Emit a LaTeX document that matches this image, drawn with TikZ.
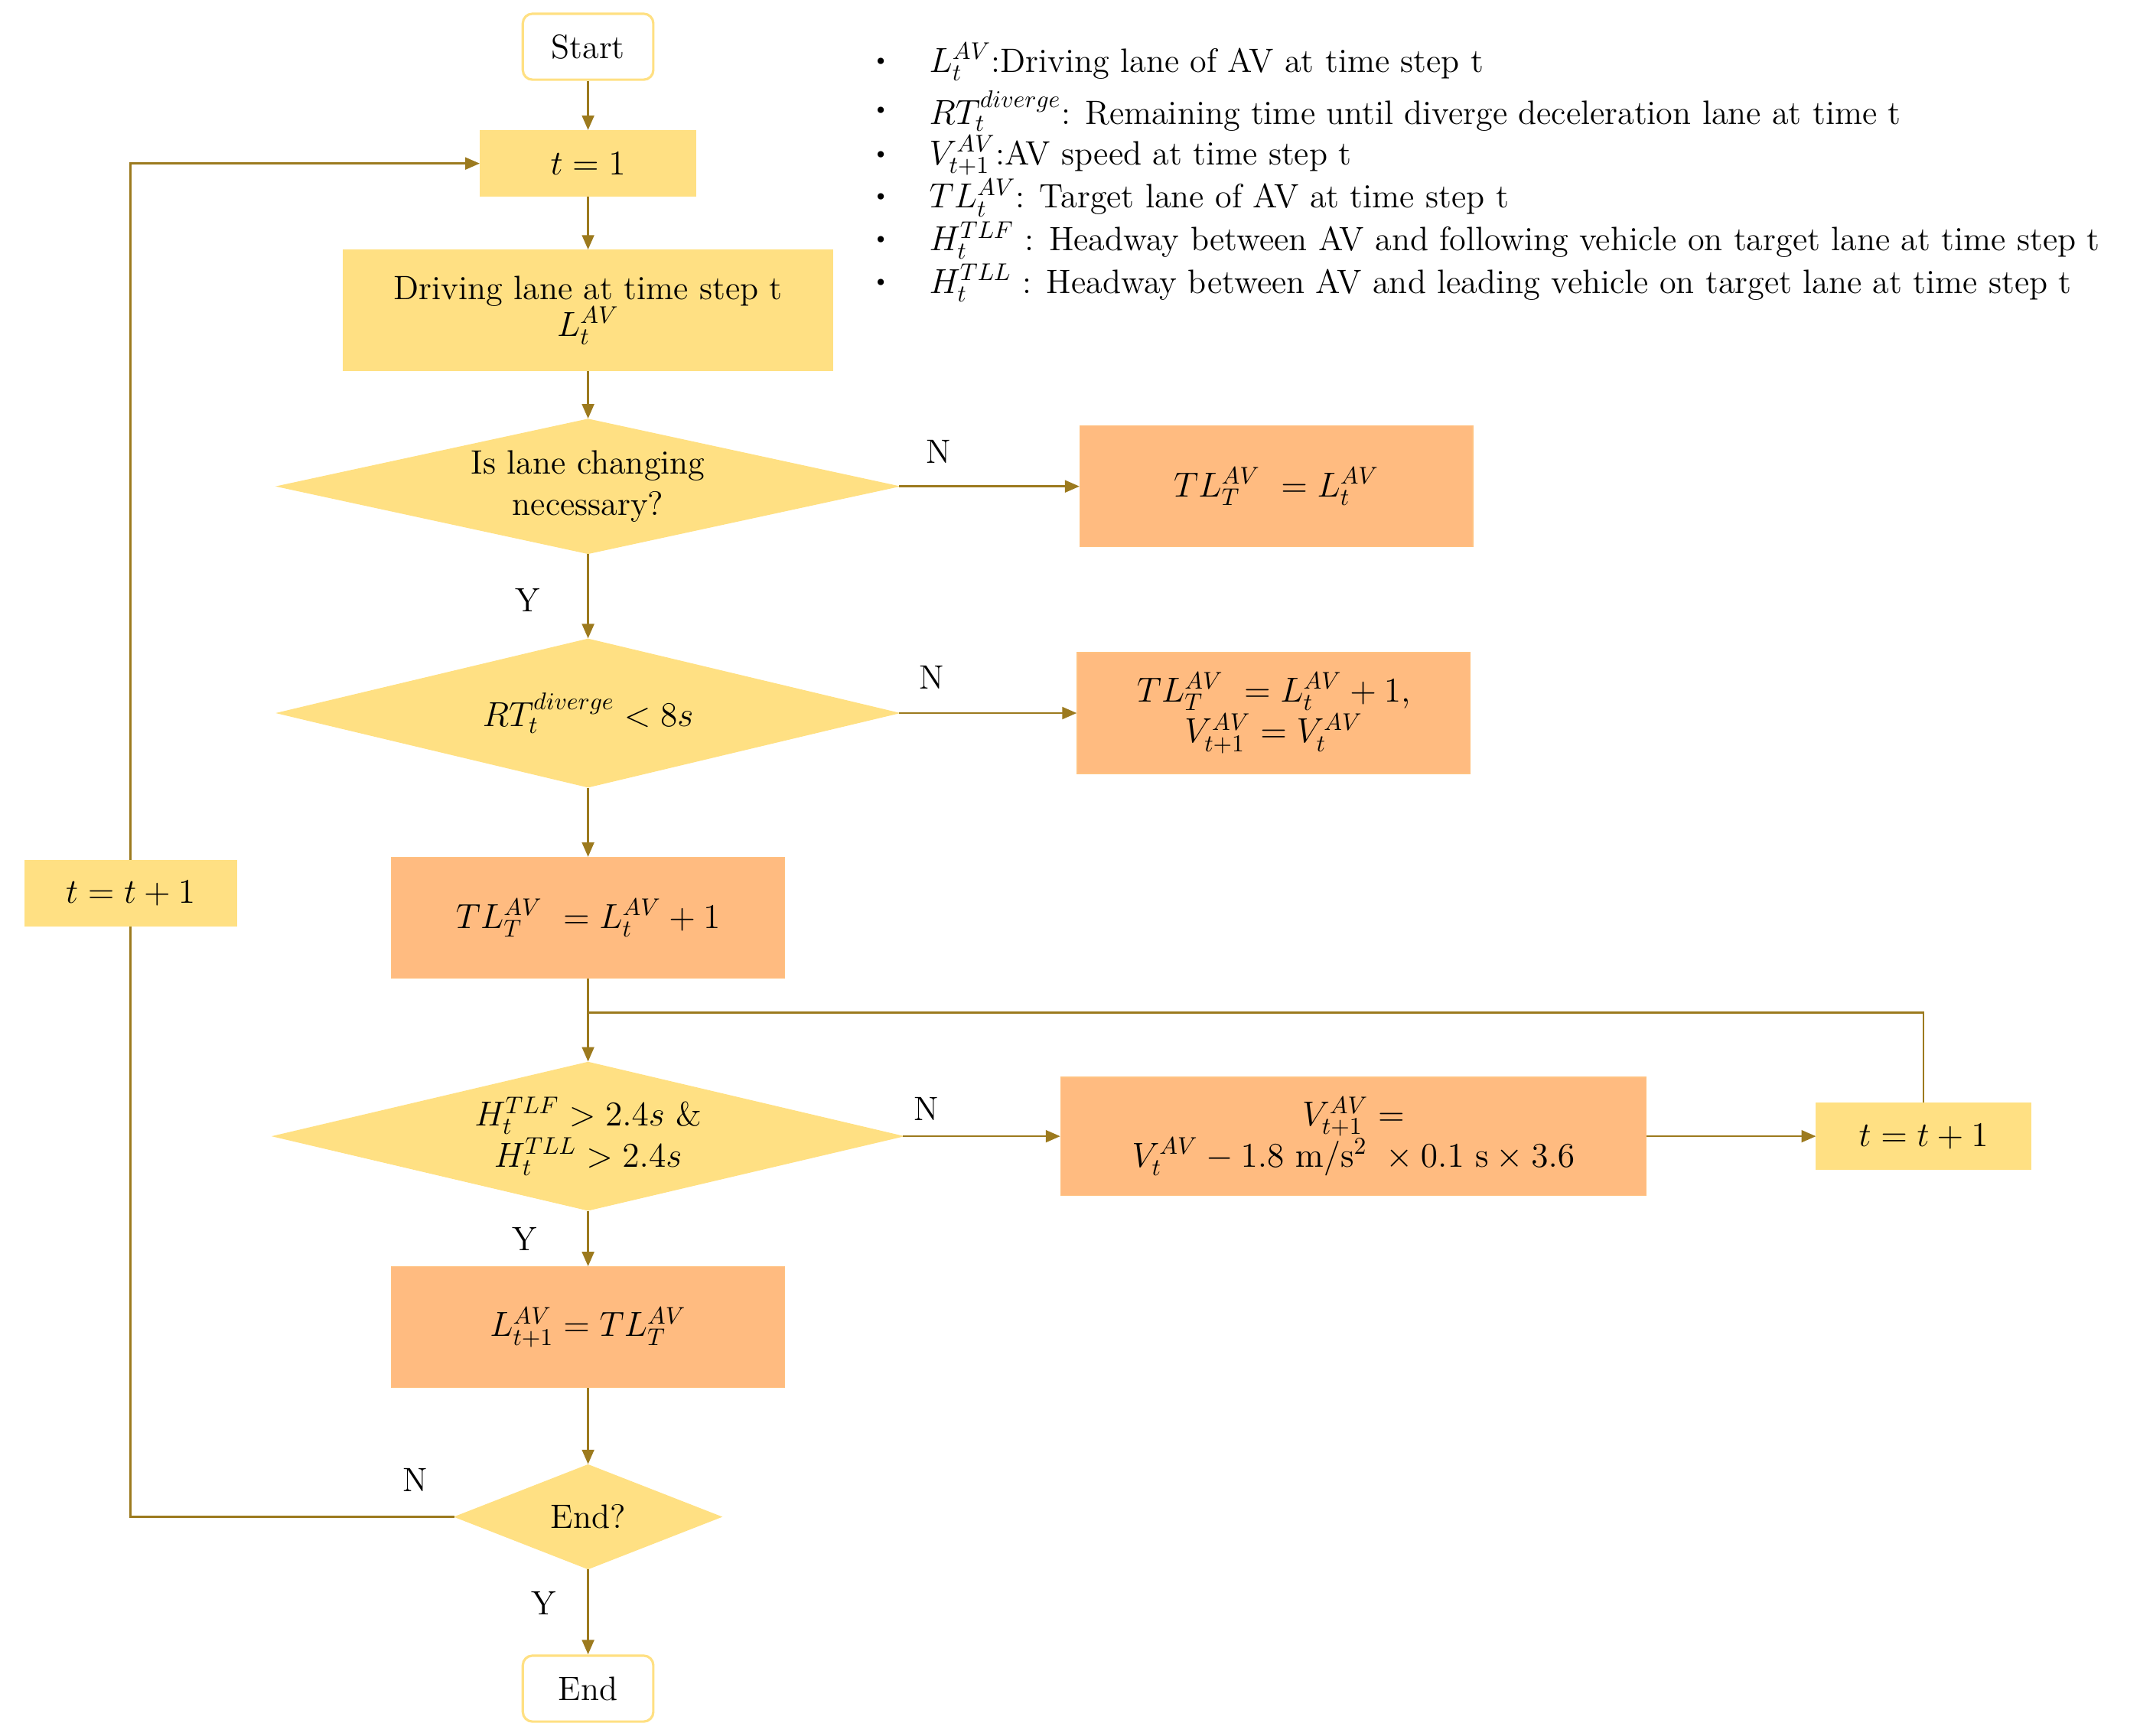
\documentclass[tikz,border=0pt]{standalone}
\usetikzlibrary{shapes.geometric,arrows.meta}
\definecolor{yel}{HTML}{FFE083}
\definecolor{org}{HTML}{FFBB80}
\definecolor{ln}{HTML}{9C7A1E}
\begin{document}
\begin{tikzpicture}[x=0.02cm,y=-0.02cm,
  every node/.style={font=\fontsize{14}{17}\selectfont},
  yb/.style={draw=yel,fill=yel,minimum width=#1*0.02cm,minimum height=48*0.02cm,inner sep=0pt,align=center},
  ob/.style={draw=org!80!yel,fill=org,minimum width=#1*0.02cm,minimum height=88*0.02cm,inner sep=0pt,align=center},
  dm/.style n args={3}{diamond,aspect=#3,fill=yel,draw=yel,minimum width=#1*0.02cm,minimum height=#2*0.02cm,inner sep=0pt,align=center},
  ar/.style={draw=ln,line width=0.8pt,-{Triangle[length=6pt,width=5pt]}},
  pl/.style={draw=ln,line width=0.8pt}]
\useasboundingbox (0,0) rectangle (1567,1263);
\node[draw=yel,line width=1pt,rounded corners=4pt,minimum width=95*0.02cm,minimum height=48*0.02cm] (start) at (428,34) {Start};
\node[yb=157] (t1) at (428,119) {$t=1$};
\node[yb=356,minimum height=88*0.02cm] (drv) at (428,226) {Driving lane at time step t\\[-2pt]$L_t^{AV}$};
\node[dm={452}{98}{4.61}] (d1) at (428,354) {Is lane changing\\necessary?};
\node[ob=286] (b1) at (929,354) {$TL_T^{AV}\ =L_t^{AV}$};
\node[dm={452}{108}{4.19}] (d2) at (428,519) {$RT_t^{diverge}<8s$};
\node[ob=286] (b2) at (927,519) {$TL_T^{AV}\ =L_t^{AV}+1,$\\$V_{t+1}^{AV}=V_t^{AV}$};
\node[ob=286] (b3) at (428,668) {$TL_T^{AV}\ =L_t^{AV}+1$};
\node[dm={458}{108}{4.24}] (d3) at (428,827) {$H_t^{TLF}>2.4s$ \&\\$H_t^{TLL}>2.4s$};
\node[ob=426,minimum height=86*0.02cm] (b4) at (985,827) {$V_{t+1}^{AV}=$\\$V_t^{AV}-1.8\ \mathrm{m/s^2}\ \times 0.1\ \mathrm{s}\times 3.6$};
\node[yb=156] (tr) at (1400,827) {$t=t+1$};
\node[ob=286] (b5) at (428,966) {$L_{t+1}^{AV}=TL_T^{AV}$};
\node[dm={194}{76}{2.55}] (d4) at (428,1104) {End?};
\node[draw=yel,line width=1pt,rounded corners=4pt,minimum width=95*0.02cm,minimum height=48*0.02cm] (end) at (428,1229) {End};
\node[yb=154] (tl) at (95,650) {$t=t+1$};
\coordinate (j) at (428,737);
\coordinate (jr) at (1400,737);
\coordinate (c1) at (95,1104);
\coordinate (c2) at (95,119);
\draw[ar] (start) -- (t1);
\draw[ar] (t1) -- (drv);
\draw[ar] (drv) -- (d1);
\draw[ar] (d1) -- (d2);
\draw[ar] (d1) -- (b1);
\draw[ar] (d2) -- (b2);
\draw[ar] (d2) -- (b3);
\draw[pl] (b3) -- (j);
\draw[ar] (j) -- (d3.north);
\draw[pl] (j) -- (jr) -- (tr);
\draw[ar] (d3) -- (b4);
\draw[ar] (b4) -- (tr);
\draw[ar] (d3) -- (b5);
\draw[ar] (b5) -- (d4);
\draw[ar] (d4) -- (end);
\draw[pl] (d4.west) -- (c1) -- (tl);
\draw[ar] (tl) -- (c2) -- (t1);
\node at (683,329) {N};
\node at (384,437) {Y};
\node at (678,493) {N};
\node at (674,807) {N};
\node at (382,902) {Y};
\node at (302,1077) {N};
\node at (396,1167) {Y};
\foreach \y/\t in {45/{$L_t^{AV}$:Driving lane of AV at time step t},
  81/{$RT_t^{diverge}$: Remaining time until diverge deceleration lane at time t},
  113/{$V_{t+1}^{AV}$:AV speed at time step t},
  144/{$TL_t^{AV}$: Target lane of AV at time step t},
  175/{$H_t^{TLF}$ : Headway between AV and following vehicle on target lane at time step t},
  206/{$H_t^{TLL}$ : Headway between AV and leading vehicle on target lane at time step t}}{
  \node[font=\fontsize{9}{10}\selectfont] at (641,\y) {\textbullet};
  \node[anchor=west,inner sep=0pt] at (676,\y) {\t};
}
\end{tikzpicture}
\end{document}
